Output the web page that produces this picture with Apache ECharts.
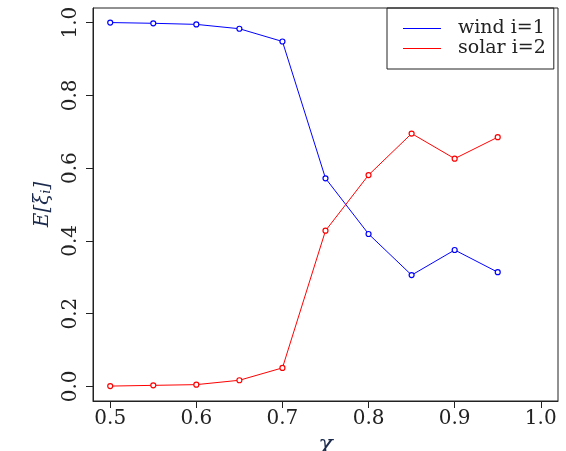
<!DOCTYPE html>
<html>
<head>
<meta charset="utf-8">
<script src="https://cdn.jsdelivr.net/npm/echarts@6/dist/echarts.min.js"></script>
<style>
  html, body { margin: 0; padding: 0; background: #fff; }
  #chart { width: 566px; height: 451px; }
</style>
</head>
<body>
<div id="chart"></div>
<script>
const chi = [0.5, 0.55, 0.6, 0.65, 0.7, 0.75, 0.8, 0.85, 0.9, 0.95];
const wind = [1.0, 0.998, 0.995, 0.983, 0.948, 0.572, 0.419, 0.306, 0.375, 0.314];
const solar = [0.001, 0.003, 0.005, 0.017, 0.051, 0.428, 0.581, 0.695, 0.626, 0.685];
const xTicks = [0.5, 0.6, 0.7, 0.8, 0.9, 1.0];
const yTicks = [0.0, 0.2, 0.4, 0.6, 0.8, 1.0];

const pairs = ys => chi.map((x, i) => [x, ys[i]]);
const font = 'DejaVu Serif';
const ink = '#222';

const option = {
    animation: false,
    grid: {left: 93, top: 8, right: 8, bottom: 50, containLabel: false, outerBoundsMode: 'none',
        show: true, borderColor: ink, borderWidth: 1},
    legend: {
        orient: 'vertical', left: 387, top: 8,
        padding: [11, 8, 11, 16], itemGap: 1,
        itemWidth: 38, itemHeight: 1, icon: 'rect',
        borderColor: ink, borderWidth: 1, borderRadius: 0,
        textStyle: {fontFamily: font, fontSize: 19, color: ink, padding: [0, 0, 0, 12]},
        data: [
            {name: 'wind i=1', itemStyle: {color: '#0000ff', borderWidth: 0}},
            {name: 'solar i=2', itemStyle: {color: '#ff0000', borderWidth: 0}}
        ]
    },
    xAxis: {
        type: 'value', min: 0.48, max: 1.02,
        name: 'χ', nameLocation: 'middle', nameGap: 30,
        nameTextStyle: {fontFamily: font, fontStyle: 'italic', fontSize: 24, color: '#1c2b4d'},
        axisLine: {show: true, onZero: false, lineStyle: {color: ink}},
        axisTick: {show: true, length: 7, customValues: xTicks, lineStyle: {color: ink}},
        axisLabel: {customValues: xTicks, margin: 8, fontFamily: font, fontSize: 20, color: ink,
            formatter: v => v.toFixed(1)},
        splitLine: {show: false}
    },
    yAxis: {
        type: 'value', min: -0.04, max: 1.04,
        name: '{a|E[ξ}{b|i}{a|]}', nameLocation: 'middle', nameGap: 40, nameRotate: 90,
        nameTextStyle: {rich: {
            a: {fontFamily: font, fontStyle: 'italic', fontSize: 20, color: '#1c2b4d'},
            b: {fontFamily: font, fontStyle: 'italic', fontSize: 13, color: '#1c2b4d', verticalAlign: 'bottom', padding: [8, 0, 0, 0]}
        }},
        axisLine: {show: true, onZero: false, lineStyle: {color: ink}},
        axisTick: {show: true, length: 7, customValues: yTicks, lineStyle: {color: ink}},
        axisLabel: {customValues: yTicks, rotate: 90, margin: 12, fontFamily: font, fontSize: 20, color: ink,
            formatter: v => v.toFixed(1)},
        splitLine: {show: false}
    },
    series: [{
        name: 'wind i=1', type: 'line', data: pairs(wind),
        symbol: 'circle', symbolSize: 5,
        lineStyle: {color: '#0000ff', width: 1},
        itemStyle: {color: '#fff', borderColor: '#0000ff', borderWidth: 1.2}
    }, {
        name: 'solar i=2', type: 'line', data: pairs(solar),
        symbol: 'circle', symbolSize: 5,
        lineStyle: {color: '#ff0000', width: 1},
        itemStyle: {color: '#fff', borderColor: '#ff0000', borderWidth: 1.2}
    }]
};

const myChart = echarts.init(document.getElementById('chart'));
myChart.setOption(option);
</script>
</body>
</html>
